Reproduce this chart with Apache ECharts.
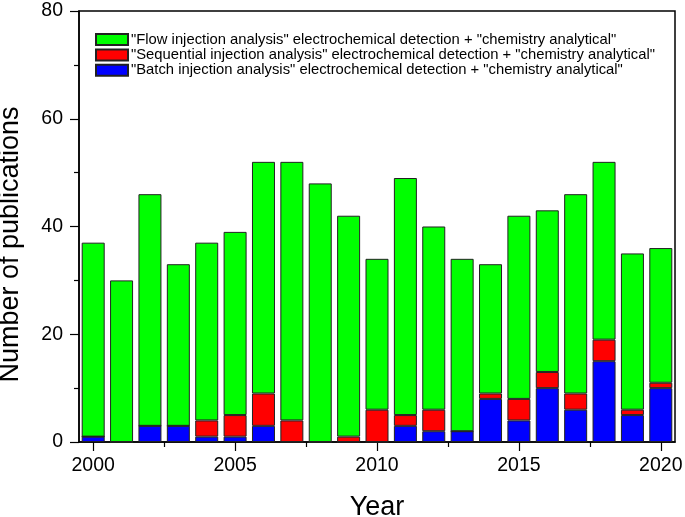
<!DOCTYPE html>
<html>
<head>
<meta charset="utf-8">
<script src="https://cdn.jsdelivr.net/npm/echarts@6/dist/echarts.min.js"></script>
<style>html,body{margin:0;padding:0;background:#fff}#c{width:685px;height:517px}</style>
</head>
<body>
<div id="c"></div>
<script>
var years = ['2000','2001','2002','2003','2004','2005','2006','2007','2008','2009','2010','2011','2012','2013','2014','2015','2016','2017','2018','2019','2020'];
var flowValues = [36,30,43,30,33,34,43,48,48,41,28,44,34,32,24,34,30,37,33,29,25];
var sequentialValues = [0,0,0,0,3,4,6,4,0,1,6,2,4,0,1,4,3,3,4,1,1];
var batchValues = [1,0,3,3,1,1,3,0,0,0,0,3,2,2,8,4,10,6,15,5,10];
var xLabelTicks = [2000,2005,2010,2015,2020];
var xMinorTicks = [2002.5,2007.5,2012.5,2017.5];
var seriesNames = [
  '"Flow injection analysis" electrochemical detection + "chemistry analytical"',
  '"Sequential injection analysis" electrochemical detection + "chemistry analytical"',
  '"Batch injection analysis" electrochemical detection + "chemistry analytical"'
];

var font = 'Liberation Sans, Arial, sans-serif';
var chart = echarts.init(document.getElementById('c'));
var barStyle = function(c){ return {color:c, borderColor:'#222', borderWidth:1}; };
chart.setOption({
  animation:false,
  grid:{left:79,right:10,top:11,bottom:75,outerBoundsMode:'none',containLabel:false,show:true,borderColor:'#000',borderWidth:1.5,backgroundColor:'transparent'},
  legend:{
    orient:'vertical', left:90, top:27, itemWidth:32, itemHeight:11, itemGap:0.4, icon:'rect',
    data:[seriesNames[0],seriesNames[1],seriesNames[2]],
    textStyle:{fontFamily:font,fontSize:14.8,lineHeight:13.6,color:'#000',padding:[0,0,0,-2]},
    selectedMode:false
  },
  xAxis:[{
    type:'category', data:years, boundaryGap:true,
    axisLine:{show:true,lineStyle:{color:'#000',width:1.5}},
    axisTick:{show:false}, axisLabel:{show:false}, splitLine:{show:false}
  },{
    type:'value', min:1999.5, max:2020.5, position:'bottom',
    name:'Year', nameLocation:'middle', nameGap:52,
    nameTextStyle:{fontFamily:font,fontSize:27,color:'#000'},
    axisLine:{show:false},
    axisTick:{show:true,length:9,customValues:xLabelTicks,lineStyle:{color:'#000',width:1.2}},
    axisLabel:{customValues:xLabelTicks,formatter:function(v){return String(v);},fontFamily:font,fontSize:19.5,color:'#000',margin:14},
    splitLine:{show:false}
  },{
    type:'value', min:1999.5, max:2020.5, position:'bottom',
    axisLine:{show:false},
    axisTick:{show:true,length:5,customValues:xMinorTicks,lineStyle:{color:'#000',width:1.2}},
    axisLabel:{show:false}, splitLine:{show:false}
  }],
  yAxis:{
    type:'value', min:0, max:80, interval:20,
    name:'Number of publications', nameLocation:'middle', nameGap:55,
    nameTextStyle:{fontFamily:font,fontSize:27,color:'#000',padding:[0,36,0,0]},
    axisLine:{show:true,lineStyle:{color:'#000',width:1.5}},
    axisTick:{show:true,length:9,lineStyle:{color:'#000',width:1.2}},
    minorTick:{show:true,splitNumber:2,length:5,lineStyle:{color:'#000',width:1.2}},
    axisLabel:{fontFamily:font,fontSize:19.5,color:'#000',margin:16},
    splitLine:{show:false}
  },
  series:[
    {name:seriesNames[2],type:'bar',stack:'t',barWidth:23,xAxisIndex:0,data:batchValues,itemStyle:barStyle('#0000FF')},
    {name:seriesNames[1],type:'bar',stack:'t',barWidth:23,xAxisIndex:0,data:sequentialValues,itemStyle:barStyle('#FF0000')},
    {name:seriesNames[0],type:'bar',stack:'t',barWidth:23,xAxisIndex:0,data:flowValues,itemStyle:barStyle('#00FF00')}
  ]
});
</script>
</body>
</html>
